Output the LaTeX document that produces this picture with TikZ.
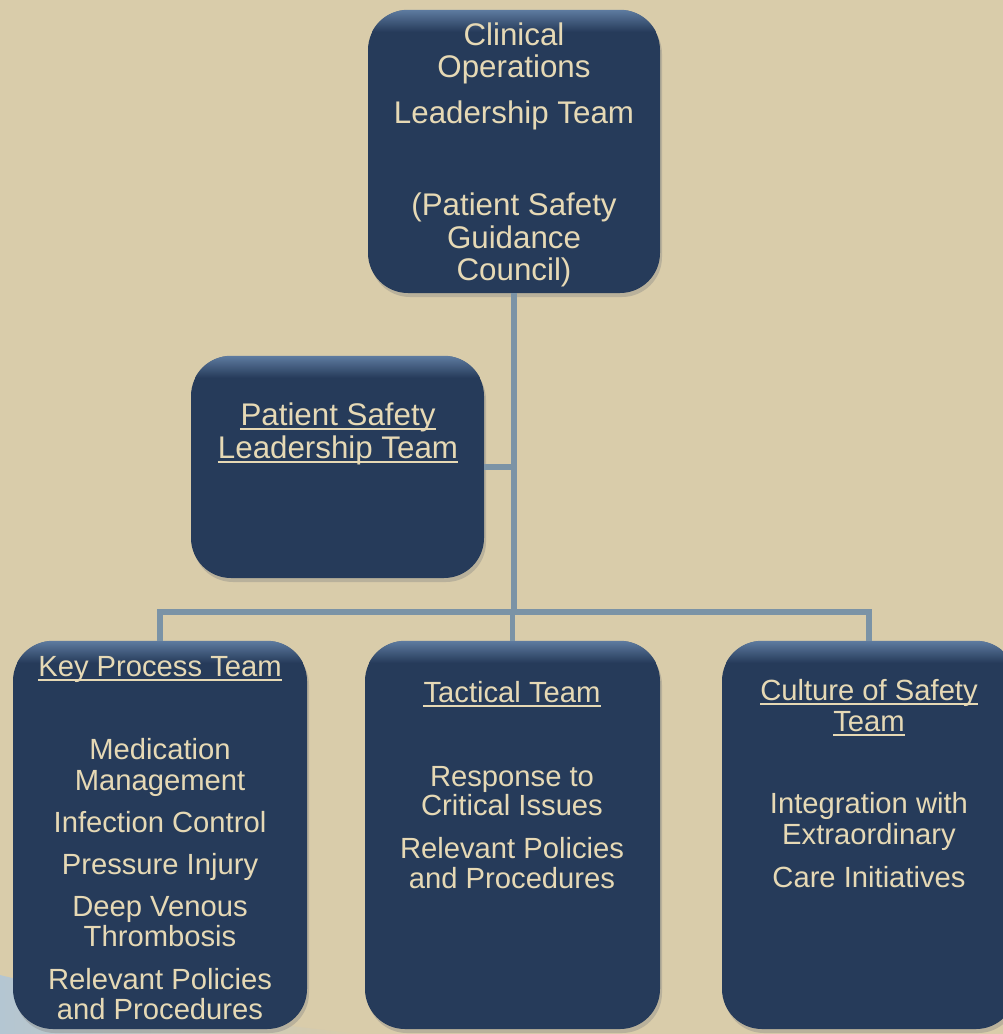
\documentclass[tikz,border=0pt]{standalone}
\usepackage{fontspec}
\setmainfont{Liberation Sans}
\usetikzlibrary{shadows}
\definecolor{bg}{HTML}{D9CCAA}
\definecolor{boxfill}{HTML}{263B5A}
\definecolor{boxhi}{HTML}{5E7BA0}
\definecolor{linec}{HTML}{7B93A6}
\definecolor{txt}{HTML}{E6D9B5}
\definecolor{swoosh}{HTML}{B4C6D2}
\tikzset{
  orgbox/.style={rectangle, rounded corners=40pt, fill=boxfill, draw=none, inner sep=0pt,
    drop shadow={opacity=0.35, shadow xshift=2pt, shadow yshift=-4pt}},
  conn/.style={draw=linec, line width=5.5pt},
  bigtxt/.style={inner sep=0pt, anchor=base, text=txt, font=\fontsize{31.3}{33}\selectfont},
  smtxt/.style={inner sep=0pt, anchor=base, text=txt, font=\fontsize{29.2}{31}\selectfont},
  ulline/.style={draw=txt, line width=2pt}
}
\newcommand{\hilite}[1]{%
  \begin{scope}
    \clip[rounded corners=40pt] (#1.north west) rectangle (#1.south east);
    \shade[top color=boxhi, bottom color=boxfill] (#1.north west) rectangle ([yshift=-22pt]#1.north east);
  \end{scope}}
\begin{document}
\begin{tikzpicture}[x=1pt,y=-1pt]
\useasboundingbox (0,0) rectangle (1003,1034);
\fill[bg] (0,0) rectangle (1003,1034);
% pale blue swoosh bottom-left
\shade[left color=swoosh, right color=bg] (0,975) .. controls (120,1005) and (250,1022) .. (360,1034) -- (0,1034) -- cycle;

% boxes
\node[orgbox, minimum width=292pt, minimum height=283pt] (top) at (514,151.5) {};
\node[orgbox, minimum width=293pt, minimum height=222pt] (ps) at (337.5,467) {};
\node[orgbox, minimum width=294pt, minimum height=388pt] (kp) at (160,835) {};
\node[orgbox, minimum width=295pt, minimum height=388pt] (tt) at (512.5,835) {};
\node[orgbox, minimum width=294pt, minimum height=388pt] (cs) at (869,835) {};
\hilite{top}\hilite{ps}\hilite{kp}\hilite{tt}\hilite{cs}

% connectors
\coordinate (j) at (514,612);
\draw[conn] (top.south) -- (j);
\draw[conn] (ps.east) -- (ps.east -| top.south);
\draw[conn] (kp.north) |- (j);
\draw[conn] (cs.north) |- (j);
\draw[conn] (tt.north) -- (tt.north |- j);

% top box text
\node[bigtxt] (t1) at (514,45) {Clinical};
\node[bigtxt] (t2) at (514,77) {Operations};
\node[bigtxt] (t3) at (514,123) {Leadership Team};
\node[bigtxt] (t4) at (514,215) {(Patient Safety};
\node[bigtxt] (t5) at (514,248) {Guidance};
\node[bigtxt] (t6) at (514,280) {Council)};

% PSLT text
\node[bigtxt] (p1) at (338,425) {Patient Safety};
\node[bigtxt] (p2) at (338,458) {Leadership Team};
\draw[ulline] ([yshift=-4pt]p1.base west) -- ([yshift=-4pt]p1.base east);
\draw[ulline] ([yshift=-4pt]p2.base west) -- ([yshift=-4pt]p2.base east);

% Key process text
\node[smtxt] (k0) at (160,676) {Key Process Team};
\draw[ulline] ([yshift=-4pt]k0.base west) -- ([yshift=-4pt]k0.base east);
\node[smtxt] (k1) at (160,759) {Medication};
\node[smtxt] (k2) at (160,790) {Management};
\node[smtxt] (k3) at (160,832) {Infection Control};
\node[smtxt] (k4) at (160,874) {Pressure Injury};
\node[smtxt] (k5) at (160,916) {Deep Venous};
\node[smtxt] (k6) at (160,946) {Thrombosis};
\node[smtxt] (k7) at (160,989) {Relevant Policies};
\node[smtxt] (k8) at (160,1019) {and Procedures};

% Tactical text
\node[smtxt] (m0) at (512,702) {Tactical Team};
\draw[ulline] ([yshift=-4pt]m0.base west) -- ([yshift=-4pt]m0.base east);
\node[smtxt] (m1) at (512,786) {Response to};
\node[smtxt] (m2) at (512,815) {Critical Issues};
\node[smtxt] (m3) at (512,858) {Relevant Policies};
\node[smtxt] (m4) at (512,888) {and Procedures};

% Culture text
\node[smtxt] (c0) at (869,700) {Culture of Safety};
\node[smtxt] (c1) at (869,731) {Team};
\draw[ulline] ([yshift=-4pt]c0.base west) -- ([yshift=-4pt]c0.base east);
\draw[ulline] ([yshift=-4pt]c1.base west) -- ([yshift=-4pt]c1.base east);
\node[smtxt] (c2) at (869,813) {Integration with};
\node[smtxt] (c3) at (869,844) {Extraordinary};
\node[smtxt] (c4) at (869,887) {Care Initiatives};
\end{tikzpicture}
\end{document}
